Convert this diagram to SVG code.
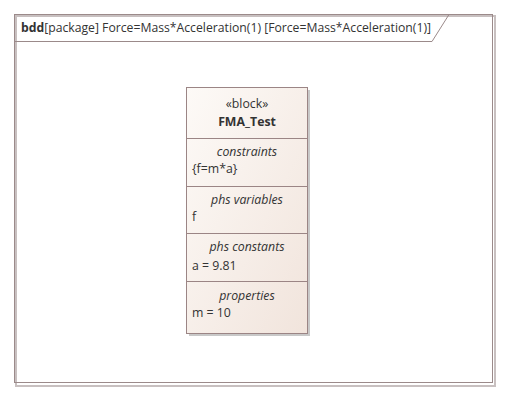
<svg xmlns="http://www.w3.org/2000/svg" width="508" height="400" viewBox="0 0 508 400">
<style>
text{font-family:"Open Sans","Liberation Sans",sans-serif;font-size:12.3px;fill:#333}
.c{text-anchor:middle}
.i{font-style:italic}
.b{font-weight:bold}
.ln{stroke:#9b8585;stroke-width:1;fill:none}
</style>
<defs>
<linearGradient id="g" x1="0" y1="0" x2="1" y2="1">
<stop offset="0" stop-color="#fdfaf7"/>
<stop offset="1" stop-color="#f1e4dc"/>
</linearGradient>
</defs>
<rect width="508" height="400" fill="#fff"/>
<g id="frame">
<rect x="16" y="16" width="479" height="370" fill="none" stroke="#c8c0c0" stroke-width="2"/>
<rect x="14.5" y="14.5" width="478" height="368" fill="none" stroke="#9b8a8a" stroke-width="1"/>
<path d="M14.5 41.5 H432 L449 14.5" fill="none" stroke="#9b8a8a"/>
<text x="21" y="32" textLength="410" lengthAdjust="spacingAndGlyphs"><tspan class="b">bdd</tspan>[package] Force=Mass*Acceleration(1) [Force=Mass*Acceleration(1)]</text>
</g>
<g id="FMA_Test">
<rect x="189" y="90" width="121" height="246" fill="#c8c8c8"/>
<rect x="186.5" y="87.5" width="121" height="246" fill="url(#g)" stroke="#9b8585"/>
<path class="ln" d="M186.5 138.5 H307.5 M186.5 186.5 H307.5 M186.5 233.5 H307.5 M186.5 281.5 H307.5"/>
<text class="c" x="247" y="108">«block»</text>
<text class="c b" x="247" y="126">FMA_Test</text>
<text class="c i" x="247" y="156">constraints</text>
<text x="192" y="173">{f=m*a}</text>
<text class="c i" x="247" y="204">phs variables</text>
<text x="192" y="221">f</text>
<text class="c i" x="247" y="251">phs constants</text>
<text x="192" y="270">a = 9.81</text>
<text class="c i" x="247" y="300">properties</text>
<text x="192" y="317">m = 10</text>
</g>
<g id="connectors"></g>
</svg>
